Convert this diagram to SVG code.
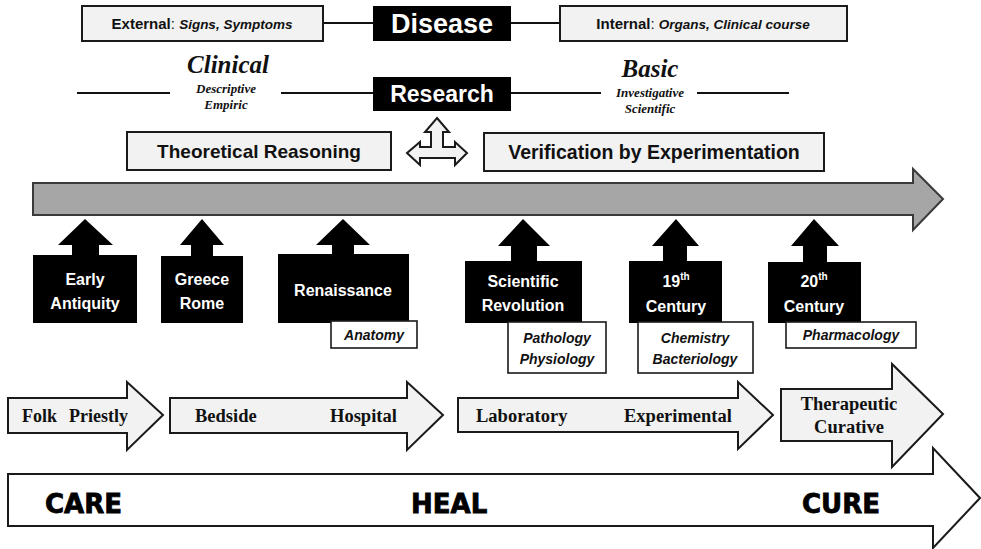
<svg xmlns="http://www.w3.org/2000/svg" width="981" height="549" viewBox="0 0 981 549">
<defs>
<style>
.lbox{fill:#f2f2f2;stroke:#1a1a1a;stroke-width:2}
.blk{fill:#000}
.sub{fill:#fff;stroke:#1a1a1a;stroke-width:1.6}
.conn{stroke:#111;stroke-width:2.2;fill:none}
.sans{font-family:"Liberation Sans",Arial,sans-serif}
.hd{font-family:"Liberation Sans",Arial,sans-serif;font-weight:bold;fill:#fff;text-anchor:middle}
.bt{font-family:"Liberation Sans",Arial,sans-serif;font-weight:bold;fill:#fff;font-size:16px;text-anchor:middle}
.it{font-family:"Liberation Sans",Arial,sans-serif;font-style:italic;font-weight:bold;fill:#111;font-size:14px;text-anchor:middle}
.ser{font-family:"Liberation Serif","Times New Roman",serif;font-weight:bold;fill:#111}
.seri{font-family:"Liberation Serif","Times New Roman",serif;font-weight:bold;font-style:italic;fill:#111;text-anchor:middle}
.lt{fill:#f2f2f2;stroke:#1a1a1a;stroke-width:2}
.big{font-family:"DejaVu Sans","Liberation Sans",sans-serif;font-weight:bold;font-size:26px;fill:#000;stroke:#000;stroke-width:0.8}
</style>
</defs>

<g id="connectors">
<line class="conn" x1="323" y1="23" x2="373" y2="23"/>
<line class="conn" x1="511" y1="23" x2="560" y2="23"/>
<line class="conn" x1="77" y1="93" x2="170" y2="93"/>
<line class="conn" x1="281" y1="93" x2="373" y2="93"/>
<line class="conn" x1="511" y1="93" x2="601" y2="93"/>
<line class="conn" x1="697" y1="93" x2="789" y2="93"/>
</g>

<g id="external">
<rect class="lbox" x="82" y="6" width="241" height="35"/>
<text x="202" y="29" text-anchor="middle" class="sans" fill="#111"><tspan font-weight="bold" font-size="15">External</tspan><tspan font-size="15">: </tspan><tspan font-weight="bold" font-style="italic" font-size="13.5">Signs, Symptoms</tspan></text>
</g>

<g id="disease">
<rect class="blk" x="373" y="6" width="138" height="35"/>
<text class="hd" x="442" y="33" font-size="27">Disease</text>
</g>

<g id="internal">
<rect class="lbox" x="560" y="6" width="287" height="35"/>
<text x="703" y="29" text-anchor="middle" class="sans" fill="#111"><tspan font-weight="bold" font-size="15">Internal</tspan><tspan font-size="15">: </tspan><tspan font-weight="bold" font-style="italic" font-size="13.5">Organs, Clinical course</tspan></text>
</g>

<g id="clinical">
<text class="seri" x="228" y="73" font-size="25">Clinical</text>
<text class="seri" x="226" y="93" font-size="13">Descriptive</text>
<text class="seri" x="226" y="109" font-size="13">Empiric</text>
</g>

<g id="research">
<rect class="blk" x="373" y="77" width="138" height="34"/>
<text class="hd" x="442" y="102" font-size="23">Research</text>
</g>

<g id="basic">
<text class="seri" x="650" y="77" font-size="25">Basic</text>
<text class="seri" x="650" y="97" font-size="13">Investigative</text>
<text class="seri" x="650" y="113" font-size="13">Scientific</text>
</g>

<g id="triple-arrow">
<polygon class="lt" stroke-width="1.6" fill="#fafafa" points="437,118 449,132 443,132 443,147 455,147 455,142 467,153 455,165 455,158 420,158 420,165 407,153 420,142 420,147 431,147 431,132 425,132"/>
</g>

<g id="theoretical">
<rect class="lbox" x="127" y="132" width="264" height="38"/>
<text x="259" y="158" text-anchor="middle" class="sans" font-weight="bold" font-size="19" fill="#111">Theoretical Reasoning</text>
</g>

<g id="verification">
<rect class="lbox" x="484" y="133" width="340" height="38"/>
<text x="654" y="159" text-anchor="middle" class="sans" font-weight="bold" font-size="19.5" fill="#111">Verification by Experimentation</text>
</g>

<g id="timeline">
<path d="M33,183 H913 V169 L943,199 L913,230 V215 H33 Z" fill="#a6a6a6" stroke="#3a3a3a" stroke-width="2"/>
</g>

<g id="early-antiquity">
<path class="blk" d="M85,219 L113,245 H99 V256 H72 V245 H58 Z"/>
<rect class="blk" x="33" y="255" width="104" height="68"/>
<text class="bt" x="85" y="285">Early</text>
<text class="bt" x="85" y="309">Antiquity</text>
</g>

<g id="greece-rome">
<path class="blk" d="M202,219 L224,245 H213 V257 H191 V245 H180 Z"/>
<rect class="blk" x="161" y="256" width="82" height="67"/>
<text class="bt" x="202" y="285">Greece</text>
<text class="bt" x="202" y="309">Rome</text>
</g>

<g id="renaissance">
<path class="blk" d="M343,219 L370,245 H354 V255 H332 V245 H316 Z"/>
<rect class="blk" x="278" y="254" width="131" height="69"/>
<text class="bt" x="343" y="296">Renaissance</text>
<rect class="sub" x="331" y="321" width="86" height="27"/>
<text class="it" x="374" y="340">Anatomy</text>
</g>

<g id="scientific-revolution">
<path class="blk" d="M523,219 L550,246 H537 V262 H511 V246 H498 Z"/>
<rect class="blk" x="465" y="261" width="117" height="62"/>
<text class="bt" x="523" y="287">Scientific</text>
<text class="bt" x="523" y="311">Revolution</text>
<rect class="sub" x="508" y="322" width="98" height="51"/>
<text class="it" x="557" y="343">Pathology</text>
<text class="it" x="557" y="364">Physiology</text>
</g>

<g id="century-19">
<path class="blk" d="M676,219 L699,246 H687 V262 H663 V246 H652 Z"/>
<rect class="blk" x="629" y="261" width="93" height="62"/>
<text class="bt" x="676" y="287">19<tspan font-size="10" dy="-7">th</tspan></text>
<text class="bt" x="676" y="312">Century</text>
<rect class="sub" x="638" y="322" width="115" height="51"/>
<text class="it" x="695" y="343">Chemistry</text>
<text class="it" x="695" y="364">Bacteriology</text>
</g>

<g id="century-20">
<path class="blk" d="M814,219 L839,246 H827 V263 H803 V246 H791 Z"/>
<rect class="blk" x="768" y="262" width="93" height="61"/>
<text class="bt" x="814" y="287">20<tspan font-size="10" dy="-7">th</tspan></text>
<text class="bt" x="814" y="312">Century</text>
<rect class="sub" x="786" y="322" width="130" height="26"/>
<text class="it" x="851" y="340">Pharmacology</text>
</g>

<g id="folk-priestly">
<path class="lt" d="M8,398 H127 V382 L163,415 L127,450 V433 H8 Z"/>
<text class="ser" x="22" y="422" font-size="18">Folk</text>
<text class="ser" x="69" y="422" font-size="18">Priestly</text>
</g>

<g id="bedside-hospital">
<path class="lt" d="M170,398 H407 V382 L443,415 L407,450 V433 H170 Z"/>
<text class="ser" x="195" y="422" font-size="18.5">Bedside</text>
<text class="ser" x="330" y="422" font-size="18.5">Hospital</text>
</g>

<g id="laboratory-experimental">
<path class="lt" d="M458,398 H738 V382 L773,415 L738,449 V432 H458 Z"/>
<text class="ser" x="476" y="422" font-size="18.5">Laboratory</text>
<text class="ser" x="624" y="422" font-size="18.5">Experimental</text>
</g>

<g id="therapeutic-curative">
<path class="lt" d="M781,389 H892 V364 L943,414 L892,467 V441 H781 Z"/>
<text class="ser" x="849" y="410" font-size="18.5" text-anchor="middle">Therapeutic</text>
<text class="ser" x="849" y="433" font-size="18.5" text-anchor="middle">Curative</text>
</g>

<g id="care-heal-cure">
<path d="M8,474 H933 V448 L980,498 L933,548 V526 H8 Z" fill="#fff" stroke="#1a1a1a" stroke-width="2"/>
<text class="big" x="45" y="513">CARE</text>
<text class="big" x="411" y="513">HEAL</text>
<text class="big" x="802" y="513">CURE</text>
</g>
</svg>
